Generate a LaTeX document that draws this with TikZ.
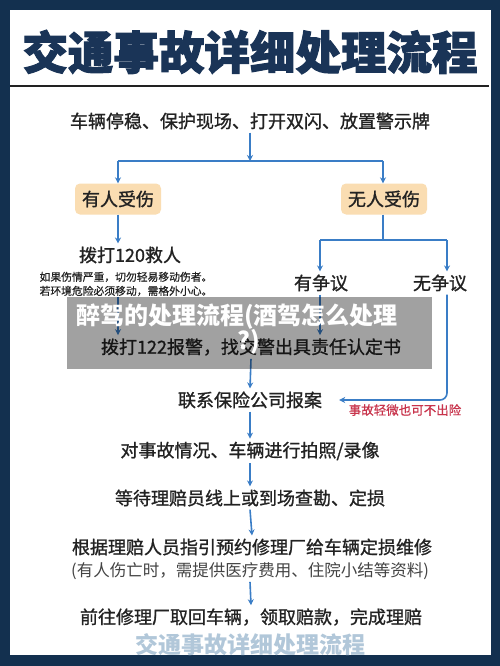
\documentclass[tikz,border=0pt]{standalone}
\usepackage{fontspec}
\setmainfont{Noto Sans CJK SC}
\newfontfamily\medfont{Noto Sans CJK SC}[FakeBold=1.1]
\newfontfamily\smallfont{Noto Sans CJK SC}[FakeBold=0.6]
\newfontfamily\heavyfont{Noto Sans CJK SC}[BoldFeatures={FakeBold=2.2}]
\usetikzlibrary{arrows.meta}
\definecolor{navy}{HTML}{13304F}
\definecolor{titlec}{HTML}{1A3457}
\definecolor{arrowblue}{HTML}{3A7DC6}
\definecolor{textdark}{HTML}{222222}
\definecolor{peach}{HTML}{FADDB2}
\definecolor{redc}{HTML}{C8334B}
\definecolor{wmark}{HTML}{A9C1D5}
\begin{document}
\begin{tikzpicture}[x=1pt,y=-1pt,
  arr/.style={draw=arrowblue, line width=1.6pt, -{Stealth[length=6pt,width=6pt]}},
  ln/.style={draw=arrowblue, line width=1.6pt},
  txt/.style={font=\medfont\fontsize{18}{20}\selectfont, text=textdark, inner sep=3pt},
  small/.style={font=\smallfont\fontsize{10.8}{12}\selectfont, text=textdark, inner sep=1pt},
  boxn/.style={txt, fill=peach, rounded corners=5pt, minimum width=86pt, minimum height=31pt, inner sep=0pt}
]
\useasboundingbox (0,0) rectangle (500,666);
\fill[navy] (0,0) rectangle (500,666);
\fill[white] (10,10) rectangle (491,655);
\node[font=\heavyfont\fontsize{45.5}{47}\selectfont\bfseries, text=titlec, inner sep=0pt] (title) at (250,52) {交通事故详细处理流程};
\draw[textdark, line width=1.4pt] (10,86) -- (489,86);

\node[txt] (s1) at (250,121) {车辆停稳、保护现场、打开双闪、放置警示牌};
\coordinate (split) at (250,161);
\coordinate (cl) at (118,161);
\coordinate (cr) at (383,161);
\node[boxn] (b1) at (118,199) {有人受伤};
\node[boxn] (b2) at (384,199) {无人受伤};
\draw[arr] (s1.south) -- (split);
\draw[ln] (cl) -- (cr);
\draw[arr] (cl) -- (b1.north);
\draw[arr] (cr) -- (b2.north -| cr);

\node[txt] (h1) at (130,255) {拨打120救人};
\node[small] (n1a) at (126,277) {如果伤情严重，切勿轻易移动伤者。};
\node[small] (n1b) at (126,291) {若环境危险必须移动，需格外小心。};
\draw[arr] (b1.south) -- (b1.south |- h1.north);

\coordinate (sr) at (383,240);
\coordinate (srl) at (320,240);
\coordinate (srr) at (447,240);
\node[txt] (d1) at (321,283) {有争议};
\node[txt] (d2) at (440,283) {无争议};
\draw[ln] (b2.south -| sr) -- (sr);
\draw[ln] (srl) -- (srr);
\draw[arr] (srl) -- (srl |- d1.north);
\draw[arr] (srr) -- (srr |- d2.north);

\node[txt] (c122) at (251,347) {拨打122报警，找交警出具责任认定书};
\draw[arr] (n1b.south -| b1.south) -- (c122.north -| b1.south);
\draw[arr] (d1.south -| srl) -- (c122.north -| srl);

\node[txt] (ins) at (250,400) {联系保险公司报案};
\draw[arr] (c122.south) -- (ins.north);
\draw[arr, rounded corners=7pt, shorten >=14pt] (d2.south -| srr) |- (ins.east);
\node[font=\smallfont\fontsize{12.5}{14}\selectfont, text=redc, inner sep=0pt] (red) at (405,410) {事故轻微也可不出险};

\node[txt] (p1) at (250,451) {对事故情况、车辆进行拍照/录像};
\node[txt] (p2) at (250,498) {等待理赔员线上或到场查勘、定损};
\node[txt] (p3) at (252,547) {根据理赔人员指引预约修理厂给车辆定损维修};
\node[txt, font=\fontsize{16.5}{18}\selectfont, text=textdark!85, inner sep=2pt] (p3b) at (250,571) {(有人伤亡时，需提供医疗费用、住院小结等资料)};
\node[txt] (p4) at (251,617) {前往修理厂取回车辆，领取赔款，完成理赔};
\draw[arr] (ins.south) -- (p1.north);
\draw[arr] (p1.south) -- (p2.north);
\draw[arr] (p2.south) -- (p3.north);
\draw[arr] (p3b.south) -- (p4.north);

% overlays
\fill[black, opacity=0.37] (67,297) rectangle (432,369);
\node[font=\fontsize{24}{26}\selectfont\bfseries, text=white, inner sep=0pt] (ov1) at (237,317) {醉驾的处理流程(酒驾怎么处理};
\node[font=\fontsize{24}{26}\selectfont\bfseries, text=white, inner sep=0pt] (ov2) at (249,342) {?)};
\node[font=\fontsize{23}{25}\selectfont\bfseries, text=wmark, opacity=0.9, inner sep=0pt] (wm) at (250,645) {交通事故详细处理流程};
\end{tikzpicture}
\end{document}
